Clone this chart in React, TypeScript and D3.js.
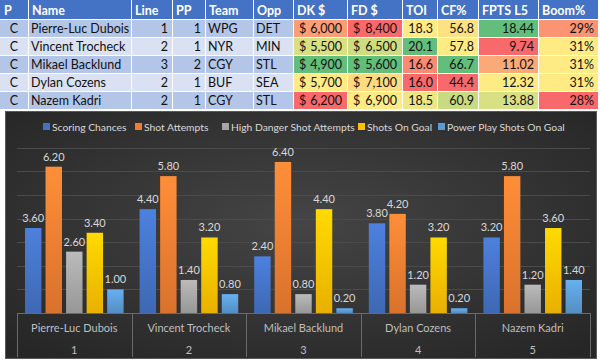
import React from 'react';
import * as d3 from 'd3';

// table data
const positions = ['C', 'C', 'C', 'C', 'C'];
const players = ['Pierre-Luc Dubois', 'Vincent Trocheck', 'Mikael Backlund', 'Dylan Cozens', 'Nazem Kadri'];
const lines = [1, 2, 3, 2, 2];
const ppUnits = [1, 1, 2, 1, 1];
const teams = ['WPG', 'NYR', 'CGY', 'BUF', 'CGY'];
const opponents = ['DET', 'MIN', 'STL', 'SEA', 'STL'];
const dkSalary = [6000, 5500, 4900, 5700, 6200];
const fdSalary = [8400, 6500, 5600, 7100, 6900];
const toi = [18.3, 20.1, 16.6, 16.0, 18.5];
const cfPct = [56.8, 57.8, 66.7, 44.4, 60.9];
const fptsL5 = [18.44, 9.74, 11.02, 12.32, 13.88];
const boomPct = [29, 31, 31, 31, 28];

// chart data
const categoryNums = ['1', '2', '3', '4', '5'];
const seriesNames = ['Scoring Chances', 'Shot Attempts', 'High Danger Shot Attempts', 'Shots On Goal', 'Power Play Shots On Goal'];
const scoringChances = [3.6, 4.4, 2.4, 3.8, 3.2];
const shotAttempts = [6.2, 5.8, 6.4, 4.2, 5.8];
const highDanger = [2.6, 1.4, 0.8, 1.2, 1.2];
const shotsOnGoal = [3.4, 3.2, 4.4, 3.2, 3.6];
const ppShotsOnGoal = [1.0, 0.8, 0.2, 0.2, 1.4];
const seriesColors = ['#4472C4', '#ED7D31', '#A5A5A5', '#FFC000', '#5B9BD5'];

const RED = '#F8696B';
const YELLOW = '#FFEB84';
const GREEN = '#63BE7B';

// excel style 3-colour scale (min / median / max)
function scaleColor(values: number[], v: number, higherBetter: boolean) {
  const lo = d3.min(values)!;
  const hi = d3.max(values)!;
  const mid = d3.median(values)!;
  const lowC = higherBetter ? RED : GREEN;
  const highC = higherBetter ? GREEN : RED;
  if (v <= mid) {
    const t = mid === lo ? 1 : (v - lo) / (mid - lo);
    return d3.interpolateRgb(lowC, YELLOW)(t);
  }
  const t = hi === mid ? 0 : (v - mid) / (hi - mid);
  return d3.interpolateRgb(YELLOW, highC)(t);
}

const fmtMoney = d3.format(',');

type Col = {
  title: string;
  x0: number;
  x1: number;
  align: 'left' | 'right' | 'center' | 'money';
  text: (i: number) => string;
  fill?: (i: number) => string;
};

const edges = [0, 28, 131, 172, 205, 253, 293, 347, 402, 437, 478, 538, 598];

const cols: Col[] = [
  { title: 'P', align: 'center', text: i => positions[i] },
  { title: 'Name', align: 'left', text: i => players[i] },
  { title: 'Line', align: 'right', text: i => String(lines[i]) },
  { title: 'PP', align: 'right', text: i => String(ppUnits[i]) },
  { title: 'Team', align: 'left', text: i => teams[i] },
  { title: 'Opp', align: 'left', text: i => opponents[i] },
  { title: 'DK $', align: 'money', text: i => fmtMoney(dkSalary[i]), fill: i => scaleColor(dkSalary, dkSalary[i], false) },
  { title: 'FD $', align: 'money', text: i => fmtMoney(fdSalary[i]), fill: i => scaleColor(fdSalary, fdSalary[i], false) },
  { title: 'TOI', align: 'right', text: i => toi[i].toFixed(1), fill: i => scaleColor(toi, toi[i], true) },
  { title: 'CF%', align: 'right', text: i => cfPct[i].toFixed(1), fill: i => scaleColor(cfPct, cfPct[i], true) },
  { title: 'FPTS L5', align: 'right', text: i => fptsL5[i].toFixed(2), fill: i => scaleColor(fptsL5, fptsL5[i], true) },
  { title: 'Boom%', align: 'right', text: i => boomPct[i] + '%', fill: i => scaleColor(boomPct, boomPct[i], true) },
].map((c, k) => ({ ...c, x0: edges[k], x1: edges[k + 1] })) as Col[];

function Table() {
  const headH = 19;
  const rowH = 18;
  const font = 'Lato, "Open Sans", sans-serif';
  return (
    <g style={{ fontFamily: font, fontSize: 12.5 }}>
      <rect x={0} y={0} width={598} height={headH} fill="#4472C4" />
      {cols.map(c => (
        <text key={c.title} x={c.x0 + 4} y={14.5} fill="#fff" fontWeight="bold">{c.title}</text>
      ))}
      {players.map((_, i) => {
        const y = headH + i * rowH;
        const band = i % 2 === 0 ? '#B4C6E7' : '#D9E1F2';
        return (
          <g key={i}>
            {cols.map(c => {
              const w = c.x1 - c.x0;
              let label;
              if (c.align === 'money') {
                label = (
                  <>
                    <text x={c.x0 + 6} y={y + 13.5}>$</text>
                    <text x={c.x1 - 5} y={y + 13.5} textAnchor="end">{c.text(i)}</text>
                  </>
                );
              } else if (c.align === 'right') {
                label = <text x={c.x1 - 4} y={y + 13.5} textAnchor="end">{c.text(i)}</text>;
              } else if (c.align === 'center') {
                label = <text x={c.x0 + w / 2} y={y + 13.5} textAnchor="middle">{c.text(i)}</text>;
              } else {
                label = <text x={c.x0 + 3} y={y + 13.5}>{c.text(i)}</text>;
              }
              return (
                <g key={c.title}>
                  <rect x={c.x0} y={y} width={w} height={rowH} fill={c.fill ? c.fill(i) : band} />
                  <g fill="#111">{label}</g>
                </g>
              );
            })}
          </g>
        );
      })}
      {/* white cell gridlines */}
      {edges.slice(1, -1).map(x => (
        <line key={x} x1={x + 0.5} x2={x + 0.5} y1={0} y2={headH + rowH * 5} stroke="#fff" strokeWidth={1} />
      ))}
      {d3.range(1, 6).map(k => (
        <line key={k} x1={0} x2={598} y1={headH + rowH * (k - 1) + 0.5} y2={headH + rowH * (k - 1) + 0.5} stroke="#fff" strokeWidth={1} />
      ))}
    </g>
  );
}

function Chart() {
  const top = 111;
  const left = 17;
  const right = 590;
  const baseY = 313;
  const values = [scoringChances, shotAttempts, highDanger, shotsOnGoal, ppShotsOnGoal];

  const y = d3.scaleLinear().domain([0, 7]).range([baseY, 147.8]);
  const x0 = d3.scaleBand<string>().domain(players).range([left, right]);
  const x1 = d3.scaleBand<number>()
    .domain(d3.range(seriesNames.length))
    .range([8, x0.bandwidth() - 8])
    .paddingInner(0.2);

  const legendX = [43, 135, 222, 358, 438];
  const textCol = '#D9D9D9';
  const font = 'Lato, "Open Sans", sans-serif';

  return (
    <g style={{ fontFamily: font }}>
      <defs>
        <radialGradient id="bg" cx="50%" cy="45%" r="70%">
          <stop offset="0%" stopColor="#454545" />
          <stop offset="100%" stopColor="#262626" />
        </radialGradient>
        {seriesColors.map((c, k) => (
          <linearGradient key={k} id={`bar${k}`} x1="0" x2="0" y1="0" y2="1">
            <stop offset="0%" stopColor={d3.color(c)!.brighter(0.35).formatHex()} />
            <stop offset="100%" stopColor={d3.color(c)!.darker(0.25).formatHex()} />
          </linearGradient>
        ))}
      </defs>
      <rect x={5.5} y={top + 0.5} width={591} height={247} fill="url(#bg)" stroke="#5a5a5a" />

      {/* gridlines */}
      {y.ticks(7).filter(t => t > 0).map(t => (
        <line key={t} x1={left} x2={right} y1={Math.round(y(t)) + 0.5} y2={Math.round(y(t)) + 0.5} stroke="#4b4b4b" />
      ))}

      {/* legend */}
      <g fontSize={10.3} fill={textCol}>
        {seriesNames.map((s, k) => (
          <g key={s}>
            <rect x={legendX[k]} y={123} width={7} height={7} fill={seriesColors[k]} />
            <text x={legendX[k] + 9} y={130.5}>{s}</text>
          </g>
        ))}
      </g>

      {/* bars */}
      {players.map((p, i) => (
        <g key={p} transform={`translate(${x0(p)},0)`}>
          {values.map((vals, k) => {
            const v = vals[i];
            const bx = x1(k)!;
            const by = y(v);
            return (
              <g key={k}>
                <rect x={bx} y={by} width={x1.bandwidth()} height={baseY - by} fill={`url(#bar${k})`} />
                <text x={bx + x1.bandwidth() / 2} y={by - 6} textAnchor="middle" fontSize={11} fill={textCol}>
                  {v.toFixed(2)}
                </text>
              </g>
            );
          })}
        </g>
      ))}

      {/* multi-level category axis */}
      <line x1={left} x2={right} y1={baseY + 0.5} y2={baseY + 0.5} stroke="#6a6a6a" />
      {[...players.map(p => x0(p)!), right].map((xv, k) => (
        <line key={k} x1={Math.round(xv) + 0.5} x2={Math.round(xv) + 0.5} y1={baseY} y2={357} stroke="#6a6a6a" />
      ))}
      <g fontSize={11} fill="#BFBFBF" textAnchor="middle">
        {players.map((p, i) => (
          <g key={p}>
            <text x={x0(p)! + x0.bandwidth() / 2} y={332}>{p}</text>
            <text x={x0(p)! + x0.bandwidth() / 2} y={354}>{categoryNums[i]}</text>
          </g>
        ))}
      </g>
    </g>
  );
}

export default function App() {
  return (
    <svg width={600} height={363} style={{ position: 'absolute', left: 0, top: 0, background: '#fff' }}>
      <Table />
      <Chart />
    </svg>
  );
}
